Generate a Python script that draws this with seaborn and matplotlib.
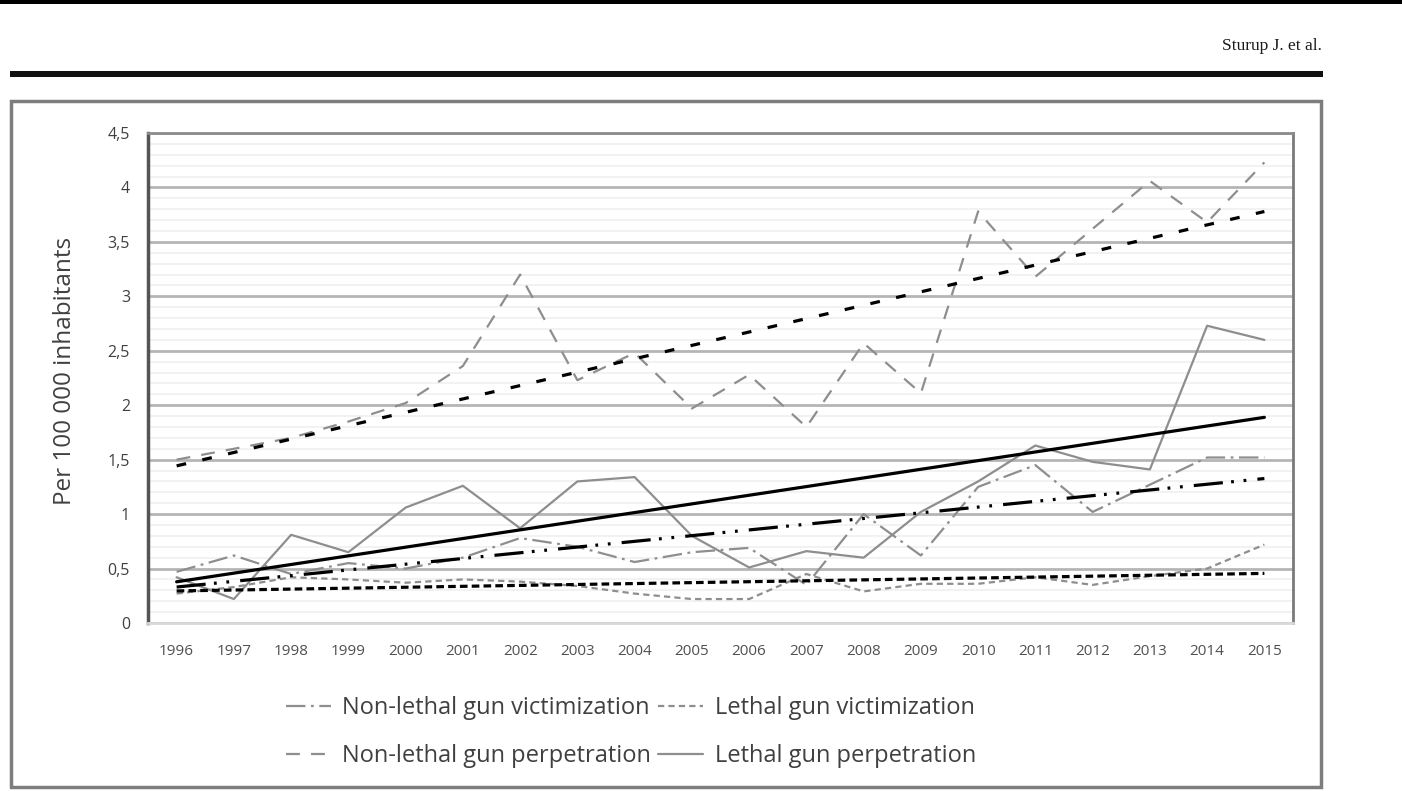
import numpy as np
import pandas as pd
import matplotlib
matplotlib.use("Agg")
import matplotlib.pyplot as plt
from matplotlib.patches import Rectangle
from matplotlib.ticker import MultipleLocator, FixedLocator, FixedFormatter
import seaborn as sns

# Rates per 100 000 inhabitants, Sweden 1996-2015
years = list(range(1996, 2016))
nonlethal_victimization = [0.47, 0.62, 0.45, 0.55, 0.50, 0.60, 0.78, 0.70, 0.56, 0.65,
                           0.69, 0.35, 1.00, 0.62, 1.25, 1.45, 1.02, 1.27, 1.52, 1.52]
lethal_victimization = [0.27, 0.33, 0.42, 0.40, 0.37, 0.40, 0.38, 0.34, 0.27, 0.22,
                        0.22, 0.45, 0.29, 0.36, 0.36, 0.42, 0.35, 0.43, 0.50, 0.72]
nonlethal_perpetration = [1.50, 1.60, 1.70, 1.85, 2.02, 2.36, 3.20, 2.23, 2.48, 1.97,
                          2.28, 1.80, 2.57, 2.11, 3.78, 3.18, 3.62, 4.06, 3.68, 4.23]
lethal_perpetration = [0.42, 0.22, 0.81, 0.65, 1.06, 1.26, 0.87, 1.30, 1.34, 0.80,
                       0.51, 0.66, 0.60, 1.02, 1.30, 1.63, 1.48, 1.41, 2.73, 2.60]

series_labels = ["Non-lethal gun victimization", "Lethal gun victimization",
                 "Non-lethal gun perpetration", "Lethal gun perpetration"]
y_ticks = [0, 0.5, 1, 1.5, 2, 2.5, 3, 3.5, 4, 4.5]
y_tick_labels = ["0", "0,5", "1", "1,5", "2", "2,5", "3", "3,5", "4", "4,5"]
y_title = "Per 100 000 inhabitants"
running_head = "Sturup J. et al."

sns.set_theme(style="white")
plt.rcParams["font.family"] = ["Open Sans", "DejaVu Sans"]
plt.rcParams["lines.scale_dashes"] = False

W, H = 1402, 791
fig = plt.figure(figsize=(W / 100, H / 100), dpi=100)
fig.patch.set_facecolor("white")


def fx(px):
    return px / W


def fy(py):
    return 1 - py / H


# page header: top rule, running head and thick separator
fig.patches.append(Rectangle((0, fy(4)), 1, 4 / H, transform=fig.transFigure,
                             facecolor="black", edgecolor="none"))
fig.patches.append(Rectangle((fx(10), fy(77)), fx(1323) - fx(10), 6 / H,
                             transform=fig.transFigure, facecolor="#111111",
                             edgecolor="none"))
fig.text(fx(1322), fy(46), running_head, ha="right", va="center",
         family="Liberation Serif", fontsize=12.5, color="#1a1a1a")
# frame around the chart
fig.patches.append(Rectangle((fx(11), fy(787)), fx(1321) - fx(11), (787 - 101) / H,
                             transform=fig.transFigure, fill=False,
                             edgecolor="#7d7d7d", lw=2.5))

ax = fig.add_axes([fx(148), fy(623), fx(1293) - fx(148), (623 - 133) / H])
ax.set_facecolor("white")

grey = "#8e8e8e"
data = [nonlethal_victimization, lethal_victimization,
        nonlethal_perpetration, lethal_perpetration]
line_styles = [(0, (14, 4, 2, 4)), (0, (4.5, 3)), (0, (10, 8)), "-"]
trend_styles = [(0, (21, 6, 2, 7, 2, 8)), (0, (5.5, 3)), (0, (7, 12)), "-"]

for vals, label, ls in zip(data, series_labels, line_styles):
    sns.lineplot(x=years, y=vals, ax=ax, color=grey, lw=1.6, linestyle=ls,
                 label=label)

# linear trend for each series
for vals, ls in zip(data, trend_styles):
    sns.regplot(x=years, y=vals, ax=ax, scatter=False, ci=None, truncate=True,
                line_kws=dict(color="black", lw=2.3, linestyle=ls))

ax.set_xlim(1995.5, 2015.5)
ax.set_ylim(0, 4.5)
ax.xaxis.set_major_locator(FixedLocator(years))
ax.xaxis.set_major_formatter(FixedFormatter([str(y) for y in years]))
ax.yaxis.set_major_locator(FixedLocator(y_ticks))
ax.yaxis.set_major_formatter(FixedFormatter(y_tick_labels))
ax.yaxis.set_minor_locator(MultipleLocator(0.1))

ax.yaxis.grid(True, which="major", color="#b5b5b5", lw=2)
ax.yaxis.grid(True, which="minor", color="#f0f0f0", lw=1.2)
ax.xaxis.grid(False)
ax.set_axisbelow(True)

ax.tick_params(axis="y", which="both", length=0, pad=13, labelsize=11.5,
               labelcolor="#404040")
ax.tick_params(axis="x", length=0, pad=15, labelsize=11, labelcolor="#505050")

for side, col, lw in [("left", "#555555", 2.5), ("top", "#8c8c8c", 2),
                      ("right", "#7a7a7a", 2), ("bottom", "#d8d8d8", 2)]:
    ax.spines[side].set_visible(True)
    ax.spines[side].set_color(col)
    ax.spines[side].set_linewidth(lw)

ax.set_xlabel("")
ax.set_ylabel(y_title, fontsize=17.5, color="#404040")
ax.yaxis.label.set_va("center")
ax.yaxis.set_label_coords((65 - 148) / 1145, (623 - 371) / 490)

handles, labels = ax.get_legend_handles_labels()
order = [0, 2, 1, 3]
if ax.get_legend() is not None:
    ax.get_legend().remove()
fig.legend([handles[i] for i in order], [labels[i] for i in order], ncol=2,
           loc="upper left", bbox_to_anchor=(fx(274), fy(684)), frameon=False,
           fontsize=17, labelcolor="#404040", handlelength=1.9,
           handletextpad=0.5, columnspacing=0.3, labelspacing=1.02,
           borderpad=0)

fig.savefig("out.png", dpi=100, facecolor="white")
